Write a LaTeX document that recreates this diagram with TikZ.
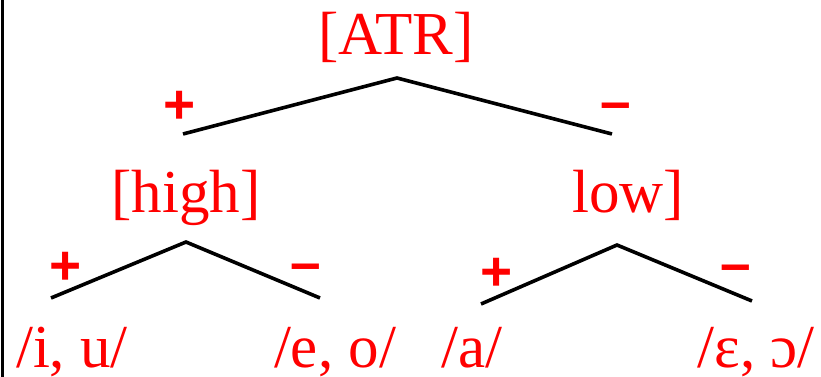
\documentclass[tikz,border=0pt]{standalone}
\usepackage{fontspec}
\setmainfont{Liberation Serif}
\newfontfamily\signbold{Liberation Sans Bold}
\definecolor{labred}{RGB}{255,0,0}
\tikzset{
  feat/.style={text=labred, font=\fontsize{61}{61}\selectfont, inner sep=0pt, anchor=base},
  sgn/.style={text=labred, font=\signbold\fontsize{55}{55}\selectfont, inner sep=0pt, anchor=base},
  branch/.style={line width=3.6pt, black},
}
\begin{document}
\begin{tikzpicture}[x=1pt,y=-1pt]
\useasboundingbox (0,0) rectangle (821,377);
\draw[line width=2.6pt] (2.5,0) -- (2.5,377);
% labels
\node[feat] (atr) at (396,55) {[ATR]};
\node[feat] (high) at (186,212) {[high]};
\node[feat] (low) at (628,212) {low]};
\node[feat] (iu) at (72,367) {/i, u/};
\node[feat] (eo) at (335,367) {/e, o/};
\node[feat] (a) at (472,367) {/a/};
\node[feat] (EO) at (756,367) {/ɛ, ɔ/};
% signs
\node[sgn] (p1) at (180,124) {+};
\node[sgn] (m1) at (616,121) {–};
\node[sgn] (p2) at (66,284) {+};
\node[sgn] (m2) at (306,281) {–};
\node[sgn] (p3) at (497,290) {+};
\node[sgn] (m3) at (736,282) {–};
% branch points
\coordinate (t0) at (397,78);
\coordinate (t1) at (183,134);
\coordinate (t2) at (612,134);
\coordinate (h0) at (186,242);
\coordinate (h1) at (51,298);
\coordinate (h2) at (320,298);
\coordinate (l0) at (617,245);
\coordinate (l1) at (481,304);
\coordinate (l2) at (752,301);
\draw[branch] (t1) -- (t0) -- (t2);
\draw[branch] (h1) -- (h0) -- (h2);
\draw[branch] (l1) -- (l0) -- (l2);
\end{tikzpicture}
\end{document}
